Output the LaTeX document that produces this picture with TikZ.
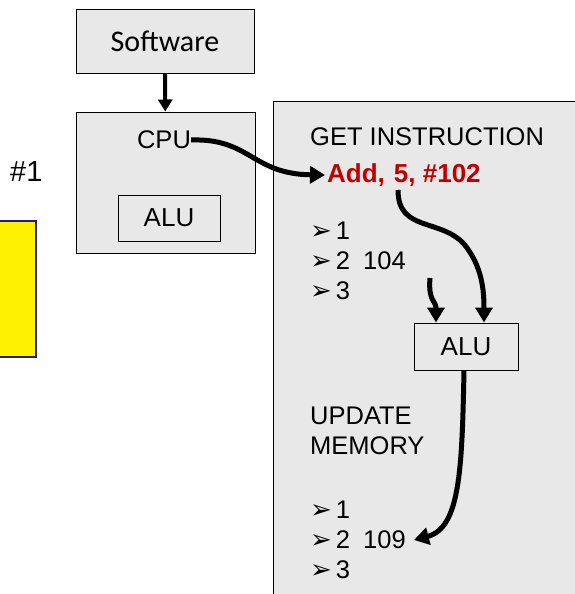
\documentclass[tikz,border=0pt]{standalone}
\usepackage{fontspec}
\setmainfont{Liberation Sans}
\newfontfamily\calibri{Carlito}
\newfontfamily\dingfont{DejaVu Sans}
\usetikzlibrary{arrows.meta}
\definecolor{boxgray}{RGB}{232,232,232}
\definecolor{instrred}{RGB}{192,0,0}
\definecolor{noteblue}{RGB}{32,32,120}
\newcommand{\bul}{\raisebox{0.5pt}{\dingfont\fontsize{26}{30}\selectfont ➢}\hspace{4pt}}
\tikzset{
  graybox/.style={draw,fill=boxgray,line width=1pt},
  alubox/.style={draw,line width=1pt,minimum width=104pt,minimum height=47pt,
    font=\fontsize{26}{30}\selectfont},
  plain/.style={anchor=west,inner sep=0pt,font=\fontsize{25.5}{30}\selectfont},
  bigarrow/.style={line width=5pt,-{Triangle[length=15pt,width=17pt]}}
}

\begin{document}
\begin{tikzpicture}[x=1pt,y=-1pt]
  \useasboundingbox (0,0) rectangle (574,594);
  % note box on the left edge
  \filldraw[fill=yellow,draw=noteblue,line width=1.2pt] (-5,221) rectangle (36,357);
  \node[plain,font=\fontsize{29}{32}\selectfont] (num) at (10,172) {\#1};
  % software and cpu
  \node[graybox,minimum width=178pt,minimum height=63pt,
    font=\calibri\fontsize{30}{34}\selectfont] (sw) at (165,41.5) {Software};
  \node[graybox,minimum width=179pt,minimum height=141pt] (cpubox) at (165.5,182.5) {};
  \node[inner sep=0pt,font=\fontsize{25.5}{30}\selectfont] (cpu) at (164,140) {CPU};
  \node[alubox,minimum width=102pt,minimum height=46pt] (alu) at (169,218) {ALU};
  \draw[line width=4pt,-{Triangle[length=12pt,width=14pt]}] (sw) -- (cpubox);
  % memory / instruction panel
  \filldraw[graybox] (273,101) rectangle (590,610);
  \node[plain] (get) at (310,137) {GET INSTRUCTION};
  \node[plain,text=instrred,font=\bfseries\fontsize{26}{30}\selectfont] (add) at (327,175) {Add,\hspace{9pt}5, \#102};
  \coordinate (five) at (398,190);
  \foreach \i/\v in {1/,2/\hspace{13pt}104,3/}
  {
    \node[plain] (in\i) at (310,201+30*\i) {\bul\i\v};
  }
  \node[alubox] (alu2) at (466,346.5) {ALU};
  \node[plain,align=left] (upd) at (310,431) {UPDATE\\MEMORY};
  \foreach \i/\v in {1/,2/\hspace{13pt}109,3/}
  {
    \node[plain] (out\i) at (310,480+30*\i) {\bul\i\v};
  }
  \coordinate (lift) at (430,278);
  % connectors
  \draw[bigarrow] (cpu.east) .. controls (250,138) and (252,174) .. ([xshift=-2pt]add.west);
  \draw[bigarrow] (five) .. controls (398,232) and (440,218) .. (464,244)
    .. controls (482,266) and (484,290) .. ([xshift=18pt]alu2.north);
  \draw[bigarrow] (lift) .. controls (428,302) and (436,300) .. ([xshift=-30pt]alu2.north);
  \draw[bigarrow] ([xshift=-2pt]alu2.south) .. controls (462,470) and (460,528) .. ([xshift=8pt]out2.east);
\end{tikzpicture}
\end{document}
